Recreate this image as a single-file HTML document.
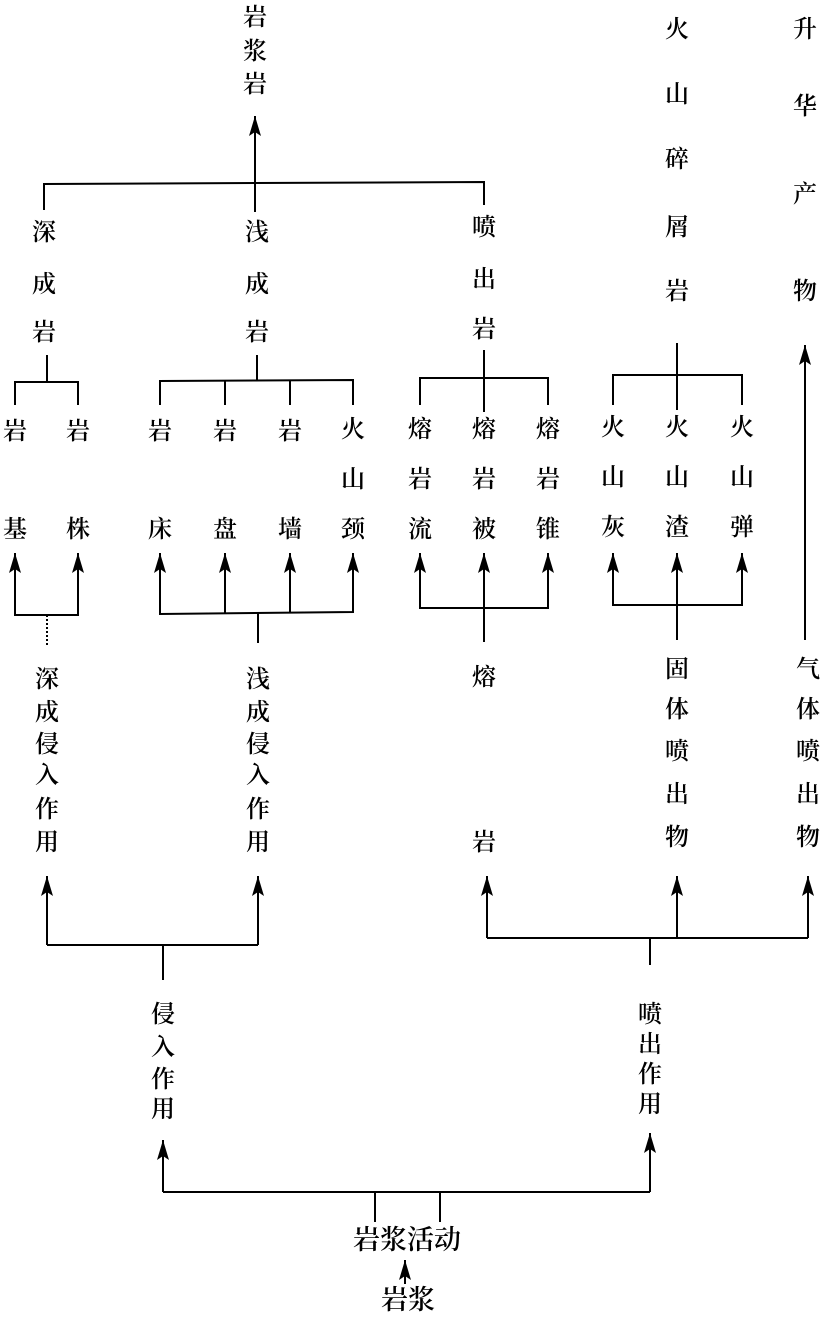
<!DOCTYPE html>
<html><head><meta charset="utf-8"><style>
html,body{margin:0;padding:0;background:#fff;}
svg text{font-family:"Liberation Serif","Noto Serif CJK SC",serif;font-weight:600;font-size:24px;fill:#000;text-anchor:middle;dominant-baseline:central;}
</style></head><body>
<svg width="822" height="1318" viewBox="0 0 822 1318" xmlns="http://www.w3.org/2000/svg">
<defs><marker id="a" markerWidth="22" markerHeight="12" refX="20" refY="6" orient="auto" markerUnits="userSpaceOnUse" viewBox="0 0 22 12"><path d="M0,0 L20,6 L0,12 L4,6 Z" fill="#000"/></marker></defs>
<g stroke="#000" stroke-width="2" fill="none">
<line x1="255" y1="183" x2="255" y2="116" marker-end="url(#a)"/>
<polyline points="44,210 44,184 484,182 484,205"/>
<line x1="255" y1="184" x2="255" y2="212"/>
<line x1="47" y1="355" x2="47" y2="382"/>
<polyline points="15,405 15,382 78,382 78,405"/>
<line x1="257" y1="355" x2="257" y2="381"/>
<polyline points="160,405 160,381 353,380 353,405"/>
<line x1="225" y1="381" x2="225" y2="405"/><line x1="290" y1="381" x2="290" y2="405"/>
<polyline points="420,405 420,378 548,378 548,405"/>
<line x1="484" y1="350" x2="484" y2="412"/>
<polyline points="613,405 613,375 742,375 742,405"/>
<line x1="677" y1="343" x2="677" y2="410"/>
<polyline points="15,575 15,615 78,615 78,575"/>
<line x1="15" y1="615" x2="15" y2="553" marker-end="url(#a)"/><line x1="78" y1="615" x2="78" y2="553" marker-end="url(#a)"/>
<line x1="47" y1="615" x2="47" y2="645" stroke-dasharray="2,2"/>
<polyline points="160,575 160,614 353,612 353,575"/>
<line x1="160" y1="614" x2="160" y2="553" marker-end="url(#a)"/><line x1="225" y1="614" x2="225" y2="553" marker-end="url(#a)"/>
<line x1="290" y1="613" x2="290" y2="553" marker-end="url(#a)"/><line x1="353" y1="612" x2="353" y2="553" marker-end="url(#a)"/>
<line x1="258" y1="613" x2="258" y2="643"/>
<polyline points="420,575 420,608 548,608 548,575"/>
<line x1="420" y1="608" x2="420" y2="553" marker-end="url(#a)"/><line x1="548" y1="608" x2="548" y2="553" marker-end="url(#a)"/>
<line x1="484" y1="642" x2="484" y2="553" marker-end="url(#a)"/>
<polyline points="613,575 613,605 742,605 742,575"/>
<line x1="613" y1="605" x2="613" y2="553" marker-end="url(#a)"/><line x1="742" y1="605" x2="742" y2="553" marker-end="url(#a)"/>
<line x1="677" y1="640" x2="677" y2="553" marker-end="url(#a)"/>
<line x1="805" y1="640" x2="805" y2="345" marker-end="url(#a)"/>
<polyline points="47,945 258,945"/>
<line x1="47" y1="945" x2="47" y2="876" marker-end="url(#a)"/><line x1="258" y1="945" x2="258" y2="876" marker-end="url(#a)"/>
<line x1="163" y1="945" x2="163" y2="980"/>
<polyline points="487,938 808,938"/>
<line x1="487" y1="938" x2="487" y2="876" marker-end="url(#a)"/><line x1="677" y1="938" x2="677" y2="876" marker-end="url(#a)"/><line x1="808" y1="938" x2="808" y2="876" marker-end="url(#a)"/>
<line x1="650" y1="938" x2="650" y2="965"/>
<polyline points="163,1192 650,1192"/>
<line x1="163" y1="1192" x2="163" y2="1140" marker-end="url(#a)"/><line x1="650" y1="1192" x2="650" y2="1133" marker-end="url(#a)"/>
<line x1="375" y1="1192" x2="375" y2="1222"/><line x1="440" y1="1192" x2="440" y2="1222"/>
<line x1="405" y1="1284" x2="405" y2="1260" marker-end="url(#a)"/>
</g>
<g>
<text x="255" y="18">岩</text><text x="255" y="52">浆</text><text x="255" y="85">岩</text>
<text x="44" y="233">深</text><text x="44" y="285">成</text><text x="44" y="333">岩</text>
<text x="257" y="233">浅</text><text x="257" y="285">成</text><text x="257" y="333">岩</text>
<text x="484" y="228">喷</text><text x="484" y="280">出</text><text x="484" y="330">岩</text>
<text x="677" y="30">火</text><text x="677" y="95">山</text><text x="677" y="160">碎</text><text x="677" y="228">屑</text><text x="677" y="292">岩</text>
<text x="805" y="30">升</text><text x="805" y="107">华</text><text x="805" y="195">产</text><text x="805" y="292">物</text>
<text x="15" y="432">岩</text><text x="78" y="432">岩</text><text x="160" y="432">岩</text><text x="225" y="432">岩</text><text x="290" y="432">岩</text><text x="353" y="430">火</text>
<text x="420" y="430">熔</text><text x="484" y="430">熔</text><text x="548" y="430">熔</text><text x="613" y="428">火</text><text x="677" y="428">火</text><text x="742" y="428">火</text>
<text x="353" y="480">山</text><text x="420" y="480">岩</text><text x="484" y="480">岩</text><text x="548" y="480">岩</text><text x="613" y="478">山</text><text x="677" y="478">山</text><text x="742" y="478">山</text>
<text x="15" y="530">基</text><text x="78" y="530">株</text><text x="160" y="530">床</text><text x="225" y="530">盘</text><text x="290" y="530">墙</text><text x="353" y="530">颈</text>
<text x="420" y="530">流</text><text x="484" y="530">被</text><text x="548" y="530">锥</text><text x="613" y="528">灰</text><text x="677" y="528">渣</text><text x="742" y="528">弹</text>
<text x="47" y="680">深</text><text x="47" y="713">成</text><text x="47" y="745">侵</text><text x="47" y="776">入</text><text x="47" y="810">作</text><text x="47" y="843">用</text>
<text x="258" y="680">浅</text><text x="258" y="713">成</text><text x="258" y="745">侵</text><text x="258" y="776">入</text><text x="258" y="810">作</text><text x="258" y="843">用</text>
<text x="484" y="678">熔</text><text x="484" y="843">岩</text>
<text x="677" y="670">固</text><text x="677" y="710">体</text><text x="677" y="752">喷</text><text x="677" y="795">出</text><text x="677" y="838">物</text>
<text x="808" y="670">气</text><text x="808" y="710">体</text><text x="808" y="752">喷</text><text x="808" y="795">出</text><text x="808" y="838">物</text>
<text x="163" y="1015">侵</text><text x="163" y="1048">入</text><text x="163" y="1080">作</text><text x="163" y="1110">用</text>
<text x="650" y="1015">喷</text><text x="650" y="1045">出</text><text x="650" y="1075">作</text><text x="650" y="1105">用</text>
<text x="407" y="1240" style="font-size:27px">岩浆活动</text>
<text x="408" y="1300" style="font-size:27px">岩浆</text>
</g>
</svg>
</body></html>
